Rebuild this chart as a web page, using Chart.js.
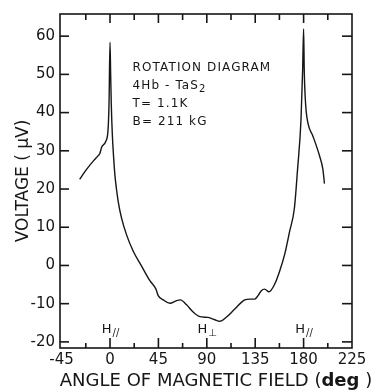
<!DOCTYPE html>
<html>
<head>
<meta charset="utf-8">
<script src="https://cdn.jsdelivr.net/npm/chart.js@4.4.0/dist/chart.umd.min.js"></script>
<style>
  html, body { margin: 0; padding: 0; background: #fff; }
  #wrap { width: 383px; height: 392px; }
</style>
</head>
<body>
<div id="wrap"><canvas id="rot"></canvas></div>
<script>
// rotation diagram, 4Hb-TaS2 at 1.1 K, 211 kG
const angles = [
  -28.2, -24, -20, -15, -10.8, -9.5, -7.7, -3.9, -1.8, -0.9, 0,
  0.6, 1.2, 2.2, 3.2, 4.6, 6, 7.7, 10.8, 15.4, 21.6, 29.4, 37.1,
  42.7, 44.8, 49.5, 55.7, 61.9, 65.5, 71.2, 77.3, 83.5, 91.2, 97.4,
  102, 108.3, 116, 125.3, 129.9, 134.5, 137.6, 140.7, 143.8, 147.8,
  153.1, 157.7, 162.4, 167, 171.4, 174.4, 177.6, 179.1, 180,
  180.6, 181.8, 184, 188.6, 194.8, 197.9, 199.4
];
const voltage = [
  22.5, 24.3, 25.8, 27.5, 28.8, 29.3, 31.0, 32.5, 35.6, 42.5, 58.4,
  50, 42, 34, 29, 23.5, 20, 16.6, 12.3, 8.0, 3.7, -0.2, -4.0,
  -6.2, -7.9, -9.0, -9.9, -9.2, -9.0, -10.3, -12.2, -13.4, -13.6, -14.2,
  -14.6, -13.5, -11.4, -9.0, -8.8, -8.8, -7.9, -6.6, -6.2, -6.9,
  -4.9, -1.5, 2.9, 8.9, 14.9, 25.2, 38.2, 51.1, 61.9,
  51.1, 42.5, 37.3, 33.9, 28.7, 25.2, 21.4
];
const xTicks = [-45, 0, 45, 90, 135, 180, 225];
const yTicks = [-20, -10, 0, 10, 20, 30, 40, 50, 60];
const infoLines = ['ROTATION DIAGRAM', '4Hb - TaS', 'T= 1.1K', 'B= 211 kG'];
const fieldMarks = [
  { angle: 0, sub: '//' },
  { angle: 90, sub: '\u22A5' },
  { angle: 180, sub: '//' }
];

const INK = '#161616';
const FONT = 'DejaVu Sans';

function seg(ctx, x0, y0, x1, y1) {
  ctx.beginPath();
  ctx.moveTo(x0, y0);
  ctx.lineTo(x1, y1);
  ctx.stroke();
}

// frame, inward ticks and the lettering inside/below the plot
const decorations = {
  id: 'decorations',
  afterDraw(chart) {
    const { ctx, chartArea: a, scales } = chart;
    const x = scales.x, y = scales.y;
    ctx.save();
    ctx.strokeStyle = INK;
    ctx.fillStyle = INK;
    ctx.lineWidth = 1.6;
    ctx.lineCap = 'butt';
    ctx.strokeRect(a.left, a.top, a.right - a.left, a.bottom - a.top);

    for (let i = 1; i < xTicks.length; i++) {
      const mid = x.getPixelForValue((xTicks[i - 1] + xTicks[i]) / 2);
      seg(ctx, mid, a.top, mid, a.top + 6);
      seg(ctx, mid, a.bottom, mid, a.bottom - 5);
      if (i < xTicks.length - 1) {
        const px = x.getPixelForValue(xTicks[i]);
        seg(ctx, px, a.top, px, a.top + 9);
        seg(ctx, px, a.bottom, px, a.bottom - 10);
      }
    }
    yTicks.forEach(v => {
      const py = y.getPixelForValue(v);
      seg(ctx, a.left, py, a.left + 9, py);
      seg(ctx, a.right, py, a.right - 10, py);
    });

    // sample information
    ctx.textBaseline = 'alphabetic';
    ctx.textAlign = 'left';
    ctx.font = '12px ' + FONT;
    ctx.letterSpacing = '1.1px';
    const ix = x.getPixelForValue(21);
    let iy = y.getPixelForValue(51);
    infoLines.forEach((t, i) => {
      ctx.fillText(t, ix, iy);
      if (i === 1) {
        const w = ctx.measureText(t).width;
        ctx.font = '10px ' + FONT;
        ctx.fillText('2', ix + w, iy + 3);
        ctx.font = '12px ' + FONT;
      }
      iy += 18;
    });

    // field direction marks
    ctx.letterSpacing = '0px';
    fieldMarks.forEach(m => {
      const px = x.getPixelForValue(m.angle);
      const py = y.getPixelForValue(-17.6);
      ctx.font = '13px ' + FONT;
      const hw = ctx.measureText('H').width;
      ctx.font = '10px ' + FONT;
      const sw = ctx.measureText(m.sub).width;
      const start = px - (hw + sw) / 2;
      ctx.font = '13px ' + FONT;
      ctx.fillText('H', start, py);
      ctx.font = '10px ' + FONT;
      ctx.fillText(m.sub, start + hw + 1, py + 3);
    });

    // x axis title with bold unit
    const parts = [
      ['ANGLE OF MAGNETIC FIELD (', 'normal'],
      ['deg', 'bold'],
      [' )', 'normal']
    ];
    let total = 0;
    parts.forEach(p => {
      ctx.font = p[1] + ' 18px ' + FONT;
      total += ctx.measureText(p[0]).width;
    });
    let tx = 216 - total / 2;
    parts.forEach(p => {
      ctx.font = p[1] + ' 18px ' + FONT;
      ctx.fillText(p[0], tx, 386);
      tx += ctx.measureText(p[0]).width;
    });
    ctx.restore();
  }
};

new Chart(document.getElementById('rot'), {
  type: 'line',
  data: {
    datasets: [{
      data: angles.map((a, i) => ({ x: a, y: voltage[i] })),
      borderColor: INK,
      borderWidth: 1.4,
      pointRadius: 0,
      fill: false,
      cubicInterpolationMode: 'monotone'
    }]
  },
  options: {
    responsive: true,
    maintainAspectRatio: false,
    animation: false,
    layout: { padding: { top: 10, right: 31, left: 0, bottom: 0 } },
    plugins: { legend: { display: false }, tooltip: { enabled: false } },
    scales: {
      x: {
        type: 'linear',
        min: -46.5,
        max: 225,
        afterBuildTicks: s => { s.ticks = xTicks.map(v => ({ value: v })); },
        afterFit: s => { s.height = 44; },
        grid: { display: false, drawTicks: false },
        border: { display: false },
        ticks: { color: INK, padding: 3, maxRotation: 0, autoSkip: false, font: { family: FONT, size: 15 } }
      },
      y: {
        min: -21.6,
        max: 65.8,
        afterBuildTicks: s => { s.ticks = yTicks.map(v => ({ value: v })); },
        afterFit: s => { s.width = 60; },
        grid: { display: false, drawTicks: false },
        border: { display: false },
        ticks: { color: INK, padding: 5, font: { family: FONT, size: 15 } },
        title: {
          display: true,
          text: 'VOLTAGE ( \u03BCV)',
          color: INK,
          font: { family: FONT, size: 17 },
          padding: { top: 13, bottom: 0 }
        }
      }
    }
  },
  plugins: [decorations]
});
</script>
</body>
</html>
